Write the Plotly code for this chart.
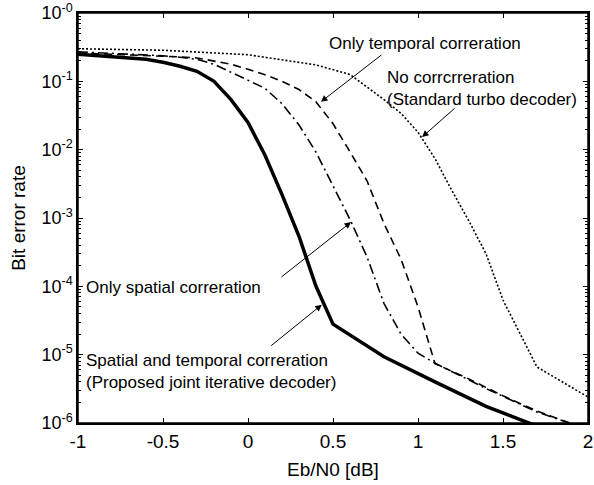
import plotly.graph_objects as go

# ---- data ----
x_joint = [-1, -0.8, -0.6, -0.5, -0.4, -0.3, -0.2, -0.1, 0.0, 0.1, 0.2, 0.3, 0.4, 0.5, 0.8, 1.1, 1.4, 1.7]
ber_joint = [0.25, 0.23, 0.21, 0.19, 0.166, 0.14, 0.1, 0.054, 0.025, 0.0083, 0.0022, 0.00054,
             0.0001, 0.000028, 0.0000093, 0.000004, 0.00000175, 0.0000009]

x_spatial = [-1, -0.8, -0.6, -0.5, -0.4, -0.3, -0.2, -0.1, 0.0, 0.1, 0.2, 0.3, 0.4, 0.5, 0.6,
             0.7, 0.8, 0.9, 1.0, 1.1, 1.4, 1.7, 2.0]
ber_spatial = [0.27, 0.255, 0.245, 0.237, 0.225, 0.21, 0.178, 0.135, 0.103, 0.079, 0.047, 0.023,
               0.0092, 0.003, 0.00095, 0.00027, 0.000056, 0.00002, 0.0000105, 0.0000075,
               0.0000032, 0.00000145, 0.0000008]

x_temporal = [-1, -0.8, -0.6, -0.5, -0.4, -0.3, -0.2, -0.1, 0.0, 0.1, 0.2, 0.3, 0.4, 0.5, 0.6,
              0.7, 0.8, 0.9, 1.0, 1.1, 1.3, 1.5, 1.7, 1.9, 2.0]
ber_temporal = [0.26, 0.25, 0.24, 0.235, 0.228, 0.22, 0.2, 0.178, 0.15, 0.125, 0.1, 0.076, 0.05,
                0.024, 0.0093, 0.0035, 0.00083, 0.00025, 0.00005, 0.0000074, 0.0000044,
                0.0000025, 0.0000015, 0.000001, 0.0000008]

x_none = [-1, -0.5, 0.0, 0.2, 0.4, 0.6, 0.8, 0.9, 1.0, 1.1, 1.2, 1.3, 1.4, 1.5, 1.6, 1.7, 2.0]
ber_none = [0.30, 0.285, 0.245, 0.205, 0.174, 0.126, 0.054, 0.034, 0.018, 0.0074, 0.0025, 0.0009,
            0.0003, 0.000063, 0.00002, 0.0000066, 0.0000024]

x_ticks = [-1, -0.5, 0, 0.5, 1, 1.5, 2]
x_ticklabels = ["-1", "-0.5", "0", "0.5", "1", "1.5", "2"]
y_ticks = [1, 1e-1, 1e-2, 1e-3, 1e-4, 1e-5, 1e-6]
y_ticklabels = ["10<sup>-0</sup>", "10<sup>-1</sup>", "10<sup>-2</sup>", "10<sup>-3</sup>",
                "10<sup>-4</sup>", "10<sup>-5</sup>", "10<sup>-6</sup>"]

FONT = "Liberation Sans, Arial, Helvetica, sans-serif"

fig = go.Figure()
fig.add_trace(go.Scatter(x=x_none, y=ber_none, mode="lines",
                         line=dict(color="black", width=1.6, dash="2px,2px"),
                         name="No correlation"))
fig.add_trace(go.Scatter(x=x_temporal, y=ber_temporal, mode="lines",
                         line=dict(color="black", width=1.6, dash="8px,5px"),
                         name="Only temporal"))
fig.add_trace(go.Scatter(x=x_spatial, y=ber_spatial, mode="lines",
                         line=dict(color="black", width=1.6, dash="10px,4px,2px,4px"),
                         name="Only spatial"))
fig.add_trace(go.Scatter(x=x_joint, y=ber_joint, mode="lines",
                         line=dict(color="black", width=3.5),
                         name="Joint"))

minor_vals = [m * 10 ** e for e in range(-6, 0) for m in range(2, 10)]

fig.update_xaxes(range=[-1, 2], tickvals=x_ticks, ticktext=x_ticklabels, automargin=False,
                 ticklabeloverflow="allow",
                 ticks="inside", ticklen=5, tickwidth=1, tickcolor="black",
                 showline=True, linecolor="black", linewidth=1.5, mirror="allticks",
                 showgrid=False, zeroline=False,
                 tickfont=dict(family=FONT, size=19, color="black"))
fig.update_yaxes(type="log", range=[-6, 0], tickvals=y_ticks, ticktext=y_ticklabels,
                 automargin=False, ticklabeloverflow="allow",
                 ticks="inside", ticklen=5, tickwidth=1, tickcolor="black",
                 showline=True, linecolor="black", linewidth=1.5, mirror="allticks",
                 showgrid=False, zeroline=False,
                 minor=dict(tickvals=minor_vals, ticks="inside", ticklen=3,
                            tickcolor="black", tickwidth=1),
                 tickfont=dict(family=FONT, size=18, color="black"))

ann_font = dict(family=FONT, size=17, color="black")
title_font = dict(family=FONT, size=19, color="black")
annotations = [
    # axis titles
    dict(text="Eb/N0 [dB]", xref="paper", yref="paper", x=0.5, y=-0.083, yanchor="top",
         showarrow=False, font=title_font),
    dict(text="Bit error rate", xref="paper", yref="paper", x=-0.118, y=0.5, textangle=-90,
         xanchor="center", yanchor="middle", showarrow=False, font=title_font),
    # labels
    dict(text="Only temporal correration", x=0.466, y=-0.44, xanchor="left", yanchor="middle",
         showarrow=False, font=ann_font),
    dict(text="No corrcrreration<br>(Standard turbo decoder)", x=0.808, y=-1.10, xanchor="left",
         yanchor="middle", align="left", showarrow=False, font=ann_font),
    dict(text="Only spatial correration", x=-0.963, y=-4.01, xanchor="left", yanchor="middle",
         showarrow=False, font=ann_font),
    dict(text="Spatial and temporal correration<br>(Proposed joint iterative decoder)",
         x=-0.963, y=-5.25, xanchor="left", yanchor="middle", align="left",
         showarrow=False, font=ann_font),
    # arrows
    dict(text="", x=0.429, y=-1.30, ax=62, ay=-48, showarrow=True, arrowhead=2,
         arrowsize=1.3, arrowwidth=1, arrowcolor="black"),
    dict(text="", x=1.024, y=-1.815, ax=34, ay=-30, showarrow=True, arrowhead=2,
         arrowsize=1.3, arrowwidth=1, arrowcolor="black"),
    dict(text="", x=0.606, y=-3.06, ax=-71, ay=56, showarrow=True, arrowhead=2,
         arrowsize=1.3, arrowwidth=1, arrowcolor="black"),
    dict(text="", x=0.434, y=-4.27, ax=-52, ay=42, showarrow=True, arrowhead=2,
         arrowsize=1.3, arrowwidth=1, arrowcolor="black"),
]

fig.update_layout(width=594, height=485, margin=dict(l=78, r=6, t=13, b=62),
                  paper_bgcolor="white", plot_bgcolor="white", showlegend=False,
                  font=dict(family=FONT, color="black"),
                  annotations=annotations,
                  shapes=[dict(type="rect", xref="paper", yref="paper", x0=0, y0=0, x1=1, y1=1,
                               line=dict(color="black", width=1.5), layer="above")])

fig.write_html("out.html", config={"displayModeBar": False},
               post_script="document.body.style.margin='0';document.body.style.overflow='hidden';")
